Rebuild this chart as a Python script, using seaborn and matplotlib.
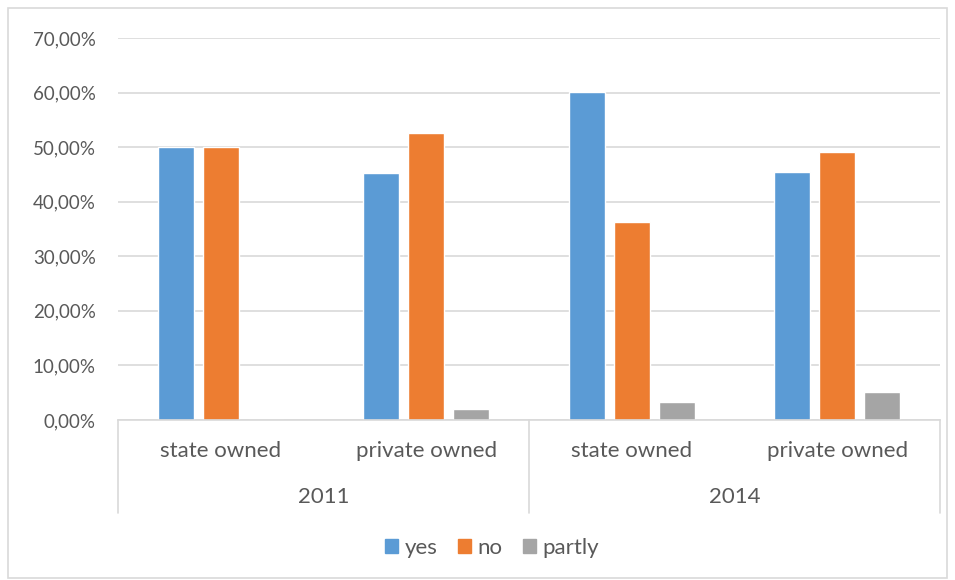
import matplotlib
matplotlib.use("Agg")
import matplotlib.pyplot as plt
import matplotlib.transforms as mtransforms
from matplotlib.ticker import FuncFormatter, MultipleLocator
from matplotlib.patches import Rectangle
import pandas as pd
import seaborn as sns

# Survey shares by year and ownership type
years = ["2011", "2011", "2014", "2014"]
ownership = ["state owned", "private owned", "state owned", "private owned"]
answers = ["yes", "no", "partly"]
yes_vals = [0.500, 0.452, 0.601, 0.455]
no_vals = [0.500, 0.525, 0.362, 0.492]
partly_vals = [0.000, 0.020, 0.033, 0.051]

colors = {"yes": "#5B9BD5", "no": "#ED7D31", "partly": "#A5A5A5"}

rows = []
for i, (yr, own) in enumerate(zip(years, ownership)):
    for ans, vals in zip(answers, [yes_vals, no_vals, partly_vals]):
        rows.append({"slot": f"{yr}|{own}", "answer": ans, "share": vals[i]})
df = pd.DataFrame(rows)
slot_order = [f"{y}|{o}" for y, o in zip(years, ownership)]

sns.set_style("white")
plt.rcParams["font.family"] = ["Lato", "DejaVu Sans"]

W, H = 955, 580
FS = 16
TXT = "#595959"
fig = plt.figure(figsize=(W / 100, H / 100), dpi=100)
ax = fig.add_axes([118 / W, 1 - 420 / H, (940 - 118) / W, (420 - 38) / H])

sns.barplot(data=df, x="slot", y="share", hue="answer", order=slot_order,
            hue_order=answers, palette=colors, width=0.657, gap=0.2,
            saturation=1, ax=ax, legend=False)

ax.set_ylim(0, 0.70)
ax.set_xlim(-0.5, len(slot_order) - 0.5)
ax.yaxis.set_major_locator(MultipleLocator(0.10))
ax.yaxis.set_major_formatter(
    FuncFormatter(lambda v, _: f"{v * 100:.2f}%".replace(".", ",")))
ax.grid(axis="y", color="#D9D9D9", linewidth=1.2)
ax.set_axisbelow(True)
for side in ["top", "right", "left"]:
    ax.spines[side].set_visible(False)
ax.spines["bottom"].set_color("#D9D9D9")
ax.spines["bottom"].set_linewidth(1.2)
ax.tick_params(axis="y", length=0, pad=16, labelsize=13.5, labelcolor=TXT)
ax.set_xticks([])
ax.set_xlabel("")
ax.set_ylabel("")

# Two-level category axis below the plot
trans = mtransforms.blended_transform_factory(ax.transData, ax.transAxes)
axis_h = 420 - 38
for xb in [-0.5, 1.5, 3.5]:
    ax.plot([xb, xb], [0, -(513 - 420) / axis_h], transform=trans,
            color="#D9D9D9", linewidth=1.2, clip_on=False)
for i, own in enumerate(ownership):
    ax.text(i, -(451 - 420) / axis_h, own, transform=trans, ha="center",
            va="center", fontsize=FS, color=TXT)
for j, yr in enumerate(["2011", "2014"]):
    ax.text(2 * j + 0.5, -(497 - 420) / axis_h, yr, transform=trans,
            ha="center", va="center", fontsize=FS, color=TXT)

# Legend
handles = [Rectangle((0, 0), 1, 1, color=colors[a]) for a in answers]
fig.legend(handles, answers, loc="center", bbox_to_anchor=(492 / W, 1 - 548 / H),
           ncol=3, frameon=False, handlelength=0.6, handleheight=0.6,
           handletextpad=0.3, columnspacing=0.9, fontsize=FS,
           labelcolor=TXT)

# Chart border
fig.patches.append(Rectangle((8 / W, 2 / H), (947 - 8) / W, (578 - 8) / H,
                             transform=fig.transFigure, fill=False,
                             edgecolor="#D9D9D9", linewidth=1.2))

fig.savefig("out.png", dpi=100)
